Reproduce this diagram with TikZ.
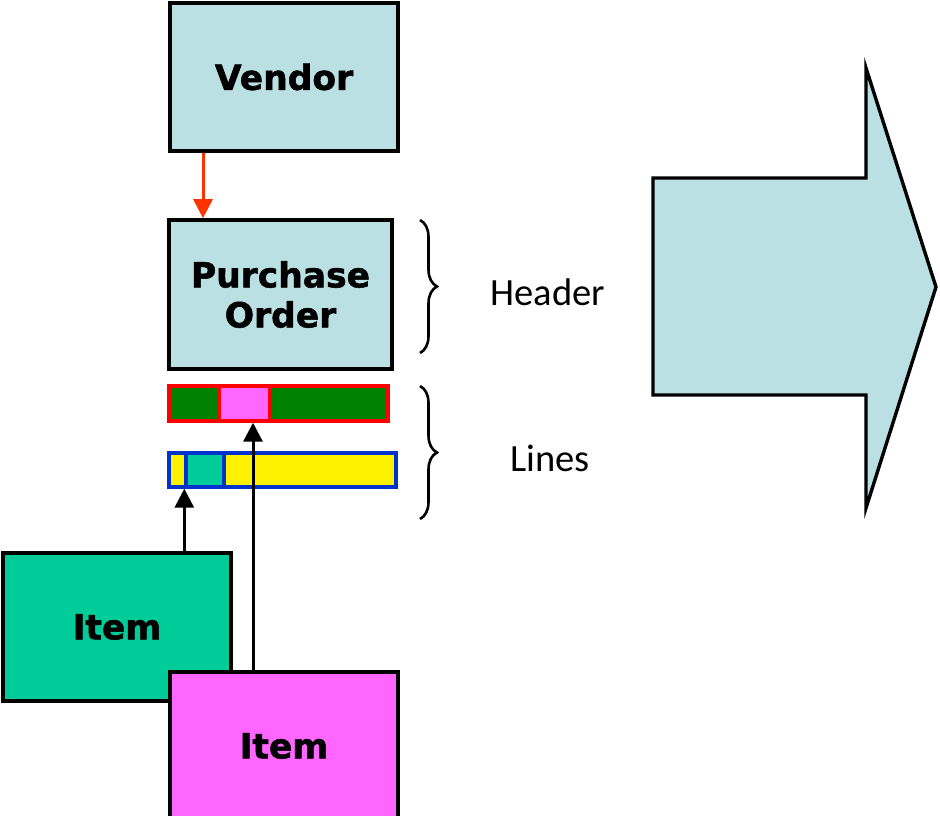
\documentclass[tikz,border=0pt]{standalone}
\usepackage{fontspec}
\setmainfont{DejaVu Sans}
\newfontfamily\vbold{DejaVu Sans Bold}[FakeBold=1.5]
\newfontfamily\calfont{Carlito}
\usetikzlibrary{arrows.meta,decorations.pathreplacing,calc}
\definecolor{lblue}{HTML}{BAE0E3}
\definecolor{iteal}{HTML}{00CC99}
\definecolor{ipink}{HTML}{FF66FF}
\definecolor{dgreen}{HTML}{008000}
\definecolor{bblue}{HTML}{0033CC}
\definecolor{oarrow}{HTML}{FF3300}
\tikzset{
  box/.style={draw=black, line width=3.6pt, inner sep=0pt, minimum width=228pt, minimum height=148pt,
    font=\vbold\fontsize{34.5}{40}\selectfont, align=center},
  bar/.style={line width=3.4pt, inner sep=0pt, minimum height=34pt},
  conn/.style={line width=3pt, -{Triangle[length=19pt,width=19pt]}},
  brc/.style={decorate, decoration={brace, amplitude=17pt, raise=0pt}, line width=2.6pt},
  lbl/.style={font=\calfont\fontsize{38.5}{40}\selectfont, inner sep=0pt}
}
\begin{document}
\begin{tikzpicture}[x=1pt,y=-1pt]
\useasboundingbox (0,0) rectangle (940,816);
% big arrow
\draw[fill=lblue, line width=3.4pt, line join=miter]
  (653,178) -- (866,178) -- (866,68) -- (936,287) -- (866,508) -- (866,395) -- (653,395) -- cycle;
% boxes
\node[box, fill=lblue] (vendor) at (284,77) {Vendor};
\node[box, fill=lblue, minimum width=223pt, minimum height=149pt] (po) at (280.5,294.5) {Purchase\\Order};
% red/green bar
\node[bar, draw=red, fill=dgreen, minimum width=219pt, minimum height=35pt] (barA) at (278.5,403.5) {};
\node[bar, draw=red, fill=ipink, minimum width=51pt, minimum height=35pt] (segA) at (244.5,403.5) {};
% blue/yellow bar
\node[bar, draw=bblue, fill=yellow, minimum width=227pt] (barB) at (282.5,470) {};
\node[bar, draw=bblue, fill=iteal, minimum width=38pt] (segB) at (205,470) {};
% items
\node[box, fill=iteal] (itemA) at (117,627) {Item};
\node[box, fill=ipink] (itemB) at (284,746) {Item};
% connectors
\draw[conn, draw=oarrow, fill=oarrow] (vendor.south -| 203,0) -- (po.north -| 203,0);
\draw[conn] (itemA.north -| segB.west) -- (segB.south west);
\draw[conn] (itemB.north -| 253,0) -- (segA.south -| 253,0);
% braces
\draw[brc] (420,220) -- (420,353);
\draw[brc] (420,386) -- (420,519);
\node[lbl] (hdr) at (548,292) {Header};
\node[lbl] (lns) at (550,458) {Lines};
\end{tikzpicture}
\end{document}
